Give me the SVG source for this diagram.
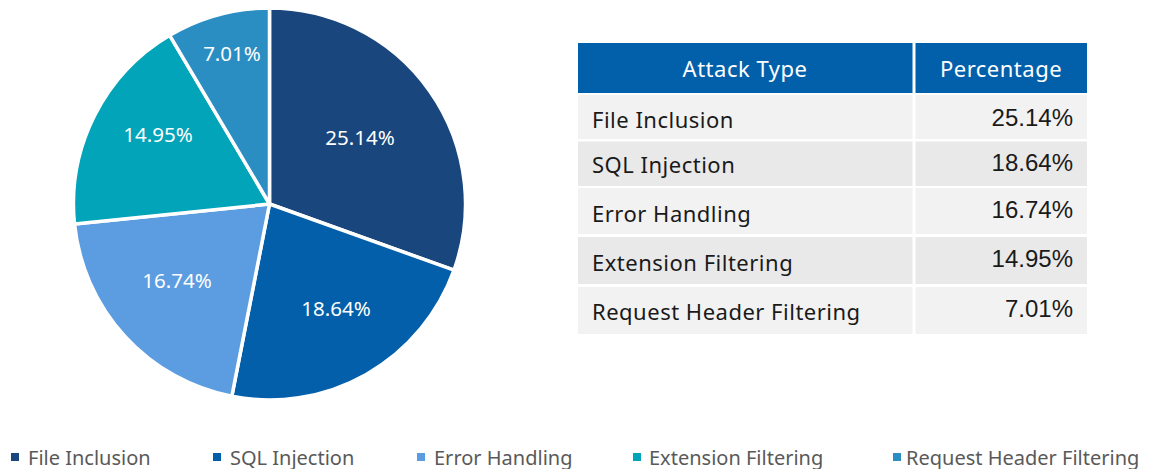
<svg xmlns="http://www.w3.org/2000/svg" width="1155" height="469" viewBox="0 0 1155 469">
<style>
.slice{stroke:#ffffff;stroke-width:3.5;stroke-linejoin:round}
.pl{font-family:"Noto Sans","Open Sans",sans-serif;font-size:20.5px;fill:#ffffff;text-anchor:middle}
.th{font-family:"Noto Sans","Open Sans",sans-serif;font-size:22px;letter-spacing:0.5px;fill:#ffffff;text-anchor:middle}
.tl{font-family:"Noto Sans","Open Sans",sans-serif;font-size:22px;letter-spacing:0.5px;fill:#1a1a1a}
.tr{font-family:"Liberation Sans",Arial,sans-serif;font-size:24px;fill:#1a1a1a;text-anchor:end}
.lg{font-family:"Noto Sans","Open Sans",sans-serif;font-size:20px;fill:#595959}
.c1{fill:#18467D}.c2{fill:#035FA9}.c3{fill:#5C9CE1}.c4{fill:#01A4B8}.c5{fill:#2A8EC2}
.hd{fill:#0260AB}.ra{fill:#F2F2F2}.rb{fill:#E9E9E9}
</style>
<rect width="1155" height="469" fill="#ffffff"/>
<g id="pie">
<path id="slice-file-inclusion" class="slice c1" d="M269.5,204 L269.5,8 A196,196 0 0,1 454.0,270.2 Z"/>
<path id="slice-sql-injection" class="slice c2" d="M269.5,204 L454.0,270.2 A196,196 0 0,1 231.8,396.3 Z"/>
<path id="slice-error-handling" class="slice c3" d="M269.5,204 L231.8,396.3 A196,196 0 0,1 74.5,224.0 Z"/>
<path id="slice-extension-filtering" class="slice c4" d="M269.5,204 L74.5,224.0 A196,196 0 0,1 169.7,35.3 Z"/>
<path id="slice-request-header-filtering" class="slice c5" d="M269.5,204 L169.7,35.3 A196,196 0 0,1 269.5,8 Z"/>
<text class="pl" x="360" y="145">25.14%</text>
<text class="pl" x="336" y="316">18.64%</text>
<text class="pl" x="177" y="288">16.74%</text>
<text class="pl" x="158" y="142">14.95%</text>
<text class="pl" x="232" y="61">7.01%</text>
</g>
<g id="table">
<rect class="hd" x="578" y="43" width="334.5" height="50"/>
<rect class="hd" x="915.5" y="43" width="171.5" height="50"/>
<text class="th" x="745" y="77">Attack Type</text>
<text class="th" x="1001" y="77">Percentage</text>
<rect class="ra" x="578" y="95" width="334.5" height="44"/>
<rect class="ra" x="915.5" y="95" width="171.5" height="44"/>
<text class="tl" x="592" y="128">File Inclusion</text>
<text class="tr" x="1073" y="126">25.14%</text>
<rect class="rb" x="578" y="141.5" width="334.5" height="44.5"/>
<rect class="rb" x="915.5" y="141.5" width="171.5" height="44.5"/>
<text class="tl" x="592" y="173">SQL Injection</text>
<text class="tr" x="1073" y="171">18.64%</text>
<rect class="ra" x="578" y="188" width="334.5" height="46"/>
<rect class="ra" x="915.5" y="188" width="171.5" height="46"/>
<text class="tl" x="592" y="222">Error Handling</text>
<text class="tr" x="1073" y="218">16.74%</text>
<rect class="rb" x="578" y="237" width="334.5" height="47"/>
<rect class="rb" x="915.5" y="237" width="171.5" height="47"/>
<text class="tl" x="592" y="271">Extension Filtering</text>
<text class="tr" x="1073" y="267">14.95%</text>
<rect class="ra" x="578" y="287" width="334.5" height="47"/>
<rect class="ra" x="915.5" y="287" width="171.5" height="47"/>
<text class="tl" x="592" y="320">Request Header Filtering</text>
<text class="tr" x="1073" y="317">7.01%</text>
</g>
<g id="legend">
<rect class="c1" x="11" y="453" width="8" height="8"/>
<text class="lg" x="28" y="465">File Inclusion</text>
<rect class="c2" x="213" y="453" width="8" height="8"/>
<text class="lg" x="230" y="465">SQL Injection</text>
<rect class="c3" x="417" y="453" width="8" height="8"/>
<text class="lg" x="434" y="465">Error Handling</text>
<rect class="c4" x="633" y="453" width="8" height="8"/>
<text class="lg" x="649" y="465">Extension Filtering</text>
<rect class="c5" x="893" y="453" width="8" height="8"/>
<text class="lg" x="906" y="465">Request Header Filtering</text>
</g>
</svg>
